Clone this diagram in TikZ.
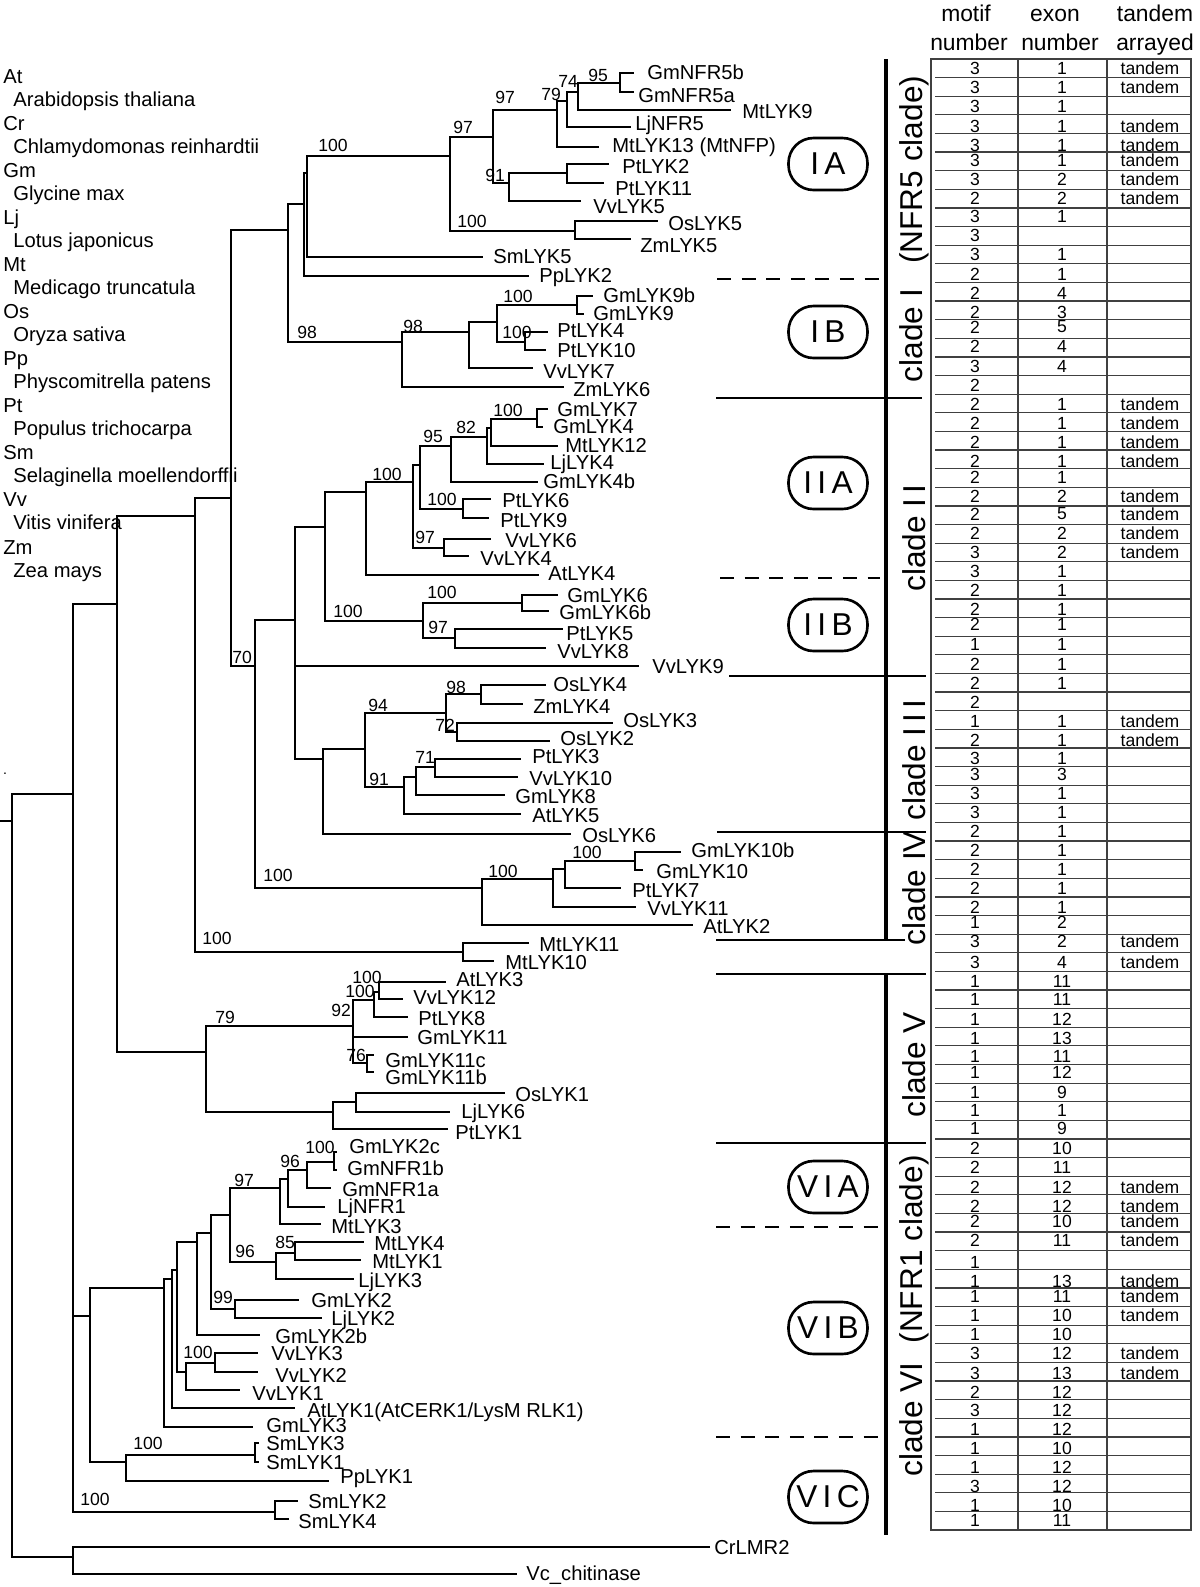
\documentclass[tikz,border=0pt]{standalone}
\usepackage{fontspec}
\setmainfont{Liberation Sans}
\usepackage{tikz}

\tikzset{
  br/.style={line width=1.1pt, line cap=rect},
  leaflab/.style={font=\fontsize{11.5}{12}\selectfont, inner sep=0pt, anchor=base west},
  bootlab/.style={font=\fontsize{10}{10}\selectfont, inner sep=0pt, anchor=base west},
  leglab/.style={font=\fontsize{11.5}{12}\selectfont, inner sep=0pt, anchor=base west},
  headlab/.style={font=\fontsize{13}{13}\selectfont, inner sep=0pt, anchor=base},
  cell/.style={font=\fontsize{10}{10}\selectfont, inner sep=0pt},
  tabline/.style={line width=0.7pt, draw=black!75},
  sepl/.style={line width=1.1pt},
  dsh/.style={line width=1.1pt, dash pattern=on 8pt off 6pt},
  cbar/.style={line width=2.2pt},
  cladelab/.style={font=\fontsize{18}{18}\selectfont, rotate=90, inner sep=0pt},
  oval/.style={draw, line width=1.5pt, rounded corners=0.5cm, minimum width=1.58cm,
               minimum height=1.04cm, inner sep=0pt, font=\fontsize{18}{18}\selectfont},
}

% branch pieces of the tree
\newcommand{\brV}[3]{\draw[br] (#1,#2) -- (#1,#3);}
\newcommand{\brH}[3]{\draw[br] (#1,#3) -- (#2,#3);}
% leaf: name, x from, x to, y, label x, label baseline, text
\newcommand{\leafL}[7]{\draw[br] (#2,#4) -- (#3,#4); \node[leaflab] (#1) at (#5,#6) {#7};}
\newcommand{\bootL}[3]{\node[bootlab] (bs-#1-#2) at (#1,#2) {#3};}

\begin{document}
\begin{tikzpicture}[x=0.02cm, y=-0.02cm]
\useasboundingbox (0,0) rectangle (1200,1587);

% ─── LEGEND ───────────────────────────────────────────────────────────────────
\foreach \ab/\nm [count=\i from 0] in {At/Arabidopsis thaliana, Cr/Chlamydomonas reinhardtii,
    Gm/Glycine max, Lj/Lotus japonicus, Mt/Medicago truncatula, Os/Oryza sativa,
    Pp/Physcomitrella patens, Pt/Populus trichocarpa, Sm/Selaginella moellendorffii,
    Vv/Vitis vinifera, Zm/Zea mays} {
  \node[leglab] (ab\i) at (3,{83+47.1*\i}) {\ab};
  \node[leglab] (sp\i) at (13,{106+47.1*\i}) {\nm};
}
\node[inner sep=0pt, font=\fontsize{8}{8}\selectfont] (dot) at (5,774) {.};

% ─── ROOT AND OUTGROUP ────────────────────────────────────────────────────────
\brH{0}{12}{821}
\brV{12}{794}{1557}
\brH{12}{73}{794}
\brH{12}{73}{1557}
\brV{73}{1547}{1574}
\leafL{CrLMR2}{73}{709}{1547}{714}{1554}{CrLMR2}
\leafL{Vcchitinase}{73}{516}{1574}{526}{1580}{Vc\_chitinase}

\brV{73}{604}{1512}
\brH{73}{117}{604}
\brH{73}{90}{1316}
\brH{73}{275}{1512}
\bootL{80}{1505}{100}
\brV{275}{1501}{1519}
\leafL{SmLYK2}{275}{297}{1501}{308}{1508}{SmLYK2}
\leafL{SmLYK4}{275}{288}{1519}{298}{1528}{SmLYK4}

% ─── CLADE VI ─────────────────────────────────────────────────────────────────
\brV{90}{1288}{1462}
\brH{90}{164}{1288}
\brH{90}{126}{1462}
\brV{126}{1455}{1481}
\brH{126}{255}{1455}
\bootL{133}{1449}{100}
\brV{255}{1443}{1462}
\leafL{SmLYK3}{255}{258}{1443}{266}{1450}{SmLYK3}
\leafL{SmLYK1}{255}{258}{1462}{266}{1469}{SmLYK1}
\leafL{PpLYK1}{126}{328}{1481}{340}{1483}{PpLYK1}
\brV{164}{1279}{1427}
\brH{164}{172}{1279}
\leafL{GmLYK3}{164}{252}{1427}{266}{1432}{GmLYK3}
\brV{172}{1270}{1408}
\brH{172}{177}{1270}
\leafL{AtLYK1}{172}{294}{1408}{307}{1417}{AtLYK1(AtCERK1/LysM RLK1)}
\brV{177}{1242}{1372}
\brH{177}{197}{1242}
\brH{177}{186}{1372}
\brV{186}{1363}{1390}
\brH{186}{215}{1363}
\bootL{183}{1358}{100}
\leafL{VvLYK1}{186}{239}{1390}{252}{1400}{VvLYK1}
\brV{215}{1353}{1372}
\leafL{VvLYK3}{215}{257}{1353}{271}{1360}{VvLYK3}
\leafL{VvLYK2}{215}{257}{1372}{275}{1382}{VvLYK2}
\brV{197}{1233}{1335}
\brH{197}{211}{1233}
\leafL{GmLYK2b}{197}{259}{1335}{275}{1343}{GmLYK2b}
\brV{211}{1215}{1309}
\brH{211}{230}{1215}
\brH{211}{235}{1309}
\brV{235}{1300}{1318}
\bootL{213}{1303}{99}
\leafL{GmLYK2}{235}{298}{1300}{311}{1307}{GmLYK2}
\leafL{LjLYK2}{235}{321}{1318}{331}{1325}{LjLYK2}
\brV{230}{1188}{1262}
\brH{230}{280}{1188}
\bootL{234}{1186}{97}
\brH{230}{276}{1262}
\bootL{235}{1257}{96}
\brV{280}{1179}{1224}
\brH{280}{288}{1179}
\leafL{MtLYK3}{280}{320}{1224}{331}{1233}{MtLYK3}
\brV{288}{1170}{1207}
\brH{288}{307}{1170}
\bootL{280}{1167}{96}
\leafL{LjNFR1}{288}{324}{1207}{337}{1213}{LjNFR1}
\brV{307}{1162}{1188}
\brH{307}{334}{1162}
\bootL{305}{1153}{100}
\leafL{GmNFR1a}{307}{330}{1188}{342}{1196}{GmNFR1a}
\brV{334}{1152}{1170}
\leafL{GmLYK2c}{334}{336}{1152}{349}{1153}{GmLYK2c}
\leafL{GmNFR1b}{334}{336}{1170}{347}{1175}{GmNFR1b}
\brV{276}{1253}{1279}
\brH{276}{295}{1253}
\bootL{275}{1248}{85}
\leafL{LjLYK3}{276}{353}{1279}{358}{1287}{LjLYK3}
\brV{295}{1242}{1260}
\leafL{MtLYK4}{295}{363}{1242}{374}{1250}{MtLYK4}
\leafL{MtLYK1}{295}{360}{1260}{372}{1268}{MtLYK1}

% ─── CLADE V ──────────────────────────────────────────────────────────────────
\brV{117}{516}{1052}
\brH{117}{195}{516}
\brH{117}{206}{1052}
\brV{206}{1026}{1112}
\bootL{215}{1023}{79}
\brH{206}{353}{1026}
\bootL{331}{1016}{92}
\brH{206}{333}{1112}
\brV{353}{1000}{1063}
\brH{353}{374}{1000}
\bootL{345}{997}{100}
\leafL{GmLYK11}{353}{407}{1037}{417}{1044}{GmLYK11}
\brH{353}{367}{1063}
\bootL{346}{1061}{76}
\brV{374}{992}{1017}
\brH{374}{379}{992}
\bootL{352}{983}{100}
\leafL{PtLYK8}{374}{407}{1017}{418}{1025}{PtLYK8}
\brV{379}{982}{999}
\leafL{AtLYK3}{379}{445}{982}{456}{986}{AtLYK3}
\leafL{VvLYK12}{379}{402}{999}{413}{1004}{VvLYK12}
\brV{367}{1055}{1072}
\leafL{GmLYK11c}{367}{373}{1055}{385}{1067}{GmLYK11c}
\leafL{GmLYK11b}{367}{373}{1072}{385}{1084}{GmLYK11b}
\brV{333}{1102}{1129}
\brH{333}{356}{1102}
\leafL{PtLYK1}{333}{447}{1129}{455}{1139}{PtLYK1}
\brV{356}{1093}{1112}
\leafL{OsLYK1}{356}{504}{1093}{515}{1101}{OsLYK1}
\leafL{LjLYK6}{356}{449}{1112}{461}{1118}{LjLYK6}

% ─── MtLYK10/11 ───────────────────────────────────────────────────────────────
\brV{195}{498}{952}
\brH{195}{231}{498}
\brH{195}{463}{952}
\bootL{202}{944}{100}
\brV{463}{943}{961}
\leafL{MtLYK11}{463}{528}{943}{539}{951}{MtLYK11}
\leafL{MtLYK10}{463}{493}{961}{505}{969}{MtLYK10}

% ─── BACKBONE OF CLADES I TO IV ───────────────────────────────────────────────
\brV{231}{230}{666}
\brH{231}{288}{230}
\brH{231}{255}{666}
\bootL{232}{663}{70}
\brV{255}{620}{888}
\brH{255}{295}{620}
\brH{255}{482}{888}
\bootL{263}{881}{100}
\brV{295}{527}{759}
\brH{295}{325}{527}
\leafL{VvLYK9}{295}{638}{666}{652}{673}{VvLYK9}
\brH{295}{323}{759}

% ─── CLADE IV ─────────────────────────────────────────────────────────────────
\brV{482}{879}{925}
\bootL{488}{877}{100}
\brH{482}{553}{879}
\leafL{AtLYK2}{482}{692}{925}{703}{933}{AtLYK2}
\brV{553}{869}{907}
\brH{553}{565}{869}
\leafL{VvLYK11}{553}{635}{907}{647}{915}{VvLYK11}
\brV{565}{861}{888}
\brH{565}{635}{861}
\bootL{572}{858}{100}
\leafL{PtLYK7}{565}{620}{888}{632}{897}{PtLYK7}
\brV{635}{852}{870}
\leafL{GmLYK10b}{635}{680}{852}{691}{857}{GmLYK10b}
\leafL{GmLYK10}{635}{642}{870}{656}{878}{GmLYK10}

% ─── CLADE III ────────────────────────────────────────────────────────────────
\brV{323}{749}{834}
\brH{323}{365}{749}
\leafL{OsLYK6}{323}{570}{834}{582}{842}{OsLYK6}
\brV{365}{713}{787}
\brH{365}{446}{713}
\bootL{368}{711}{94}
\brH{365}{404}{787}
\bootL{369}{785}{91}
\brV{446}{694}{732}
\brH{446}{481}{694}
\bootL{446}{693}{98}
\brH{446}{457}{732}
\bootL{435}{731}{72}
\brV{481}{685}{704}
\leafL{OsLYK4}{481}{545}{685}{553}{691}{OsLYK4}
\leafL{ZmLYK4}{481}{522}{704}{533}{713}{ZmLYK4}
\brV{457}{723}{741}
\leafL{OsLYK3}{457}{612}{723}{623}{727}{OsLYK3}
\leafL{OsLYK2}{457}{549}{741}{560}{745}{OsLYK2}
\brV{404}{777}{814}
\brH{404}{416}{777}
\leafL{AtLYK5}{404}{520}{814}{532}{822}{AtLYK5}
\brV{416}{767}{795}
\brH{416}{435}{767}
\bootL{415}{763}{71}
\leafL{GmLYK8}{416}{504}{795}{515}{803}{GmLYK8}
\brV{435}{759}{777}
\leafL{PtLYK3}{435}{520}{759}{532}{763}{PtLYK3}
\leafL{VvLYK10}{435}{517}{777}{529}{785}{VvLYK10}

% ─── CLADE II ─────────────────────────────────────────────────────────────────
\brV{325}{492}{621}
\brH{325}{366}{492}
\brH{325}{423}{621}
\bootL{333}{617}{100}
\brV{366}{482}{575}
\brH{366}{413}{482}
\bootL{372}{480}{100}
\leafL{AtLYK4}{366}{538}{575}{548}{580}{AtLYK4}
\brV{413}{465}{548}
\brH{413}{420}{465}
\brH{413}{444}{548}
\bootL{415}{543}{97}
\brV{420}{446}{509}
\brH{420}{451}{446}
\bootL{423}{442}{95}
\brH{420}{463}{509}
\bootL{427}{505}{100}
\brV{451}{437}{482}
\brH{451}{487}{437}
\bootL{456}{433}{82}
\leafL{GmLYK4b}{451}{537}{482}{543}{488}{GmLYK4b}
\brV{487}{428}{464}
\brH{487}{491}{428}
\leafL{LjLYK4}{487}{543}{464}{550}{469}{LjLYK4}
\brV{491}{419}{446}
\brH{491}{537}{419}
\bootL{493}{416}{100}
\leafL{MtLYK12}{491}{557}{446}{565}{452}{MtLYK12}
\brV{537}{409}{427}
\leafL{GmLYK7}{537}{547}{409}{557}{416}{GmLYK7}
\leafL{GmLYK4}{537}{542}{427}{553}{433}{GmLYK4}
\brV{463}{499}{518}
\leafL{PtLYK6}{463}{490}{499}{502}{507}{PtLYK6}
\leafL{PtLYK9}{463}{488}{518}{500}{527}{PtLYK9}
\brV{444}{539}{556}
\leafL{VvLYK6}{444}{490}{539}{505}{547}{VvLYK6}
\leafL{VvLYK4}{444}{468}{556}{480}{565}{VvLYK4}
\brV{423}{603}{638}
\brH{423}{522}{603}
\bootL{427}{598}{100}
\brH{423}{455}{638}
\bootL{428}{633}{97}
\brV{522}{595}{611}
\leafL{GmLYK6}{522}{557}{595}{567}{602}{GmLYK6}
\leafL{GmLYK6b}{522}{548}{611}{559}{619}{GmLYK6b}
\brV{455}{629}{648}
\leafL{PtLYK5}{455}{562}{629}{566}{640}{PtLYK5}
\leafL{VvLYK8}{455}{545}{648}{557}{658}{VvLYK8}

% ─── CLADE I ──────────────────────────────────────────────────────────────────
\brV{288}{204}{342}
\brH{288}{304}{204}
\brH{288}{402}{342}
\bootL{297}{338}{98}
\brV{304}{173}{276}
\brH{304}{307}{173}
\leafL{PpLYK2}{304}{528}{276}{539}{282}{PpLYK2}
\brV{307}{156}{257}
\brH{307}{450}{156}
\bootL{318}{151}{100}
\leafL{SmLYK5}{307}{482}{257}{493}{263}{SmLYK5}
\brV{450}{137}{231}
\brH{450}{493}{137}
\bootL{453}{133}{97}
\brH{450}{575}{231}
\bootL{457}{227}{100}
\brV{575}{221}{239}
\leafL{OsLYK5}{575}{657}{221}{668}{230}{OsLYK5}
\leafL{ZmLYK5}{575}{630}{239}{640}{252}{ZmLYK5}
\brV{493}{110}{183}
\brH{493}{557}{110}
\bootL{495}{103}{97}
\brH{493}{509}{183}
\bootL{485}{181}{91}
\brV{557}{101}{147}
\brH{557}{567}{101}
\bootL{541}{100}{79}
\leafL{MtLYK13}{557}{598}{147}{612}{152}{MtLYK13 (MtNFP)}
\brV{567}{92}{127}
\brH{567}{578}{92}
\bootL{558}{87}{74}
\leafL{LjNFR5}{567}{630}{127}{635}{130}{LjNFR5}
\brV{578}{83}{110}
\brH{578}{620}{83}
\bootL{588}{81}{95}
\leafL{MtLYK9}{578}{730}{110}{742}{118}{MtLYK9}
\brV{620}{73}{92}
\leafL{GmNFR5b}{620}{633}{73}{647}{79}{GmNFR5b}
\leafL{GmNFR5a}{620}{633}{92}{638}{102}{GmNFR5a}
\brV{509}{173}{201}
\brH{509}{567}{173}
\leafL{VvLYK5}{509}{580}{201}{593}{213}{VvLYK5}
\brV{567}{164}{183}
\leafL{PtLYK2}{567}{608}{164}{622}{173}{PtLYK2}
\leafL{PtLYK11}{567}{603}{183}{615}{195}{PtLYK11}
\brV{402}{332}{387}
\brH{402}{469}{332}
\bootL{403}{332}{98}
\leafL{ZmLYK6}{402}{563}{387}{573}{396}{ZmLYK6}
\brV{469}{322}{368}
\brH{469}{497}{322}
\leafL{VvLYK7}{469}{532}{368}{543}{378}{VvLYK7}
\brV{497}{305}{342}
\brH{497}{577}{305}
\bootL{503}{302}{100}
\brH{497}{525}{342}
\bootL{502}{338}{100}
\brV{577}{296}{314}
\leafL{GmLYK9b}{577}{592}{296}{603}{302}{GmLYK9b}
\leafL{GmLYK9}{577}{583}{314}{593}{320}{GmLYK9}
\brV{525}{332}{350}
\leafL{PtLYK4}{525}{547}{332}{557}{337}{PtLYK4}
\leafL{PtLYK10}{525}{545}{350}{557}{357}{PtLYK10}

% ─── CLADE SEPARATORS AND BARS ────────────────────────────────────────────────
\draw[sepl] (716,398) -- (922,398);
\draw[sepl] (729,676) -- (926,676);
\draw[sepl] (717,832) -- (926,832);
\draw[sepl] (716,940) -- (905,940);
\draw[sepl] (716,974) -- (926,974);
\draw[sepl] (716,1143) -- (926,1143);
\draw[dsh] (717,279) -- (880,279);
\draw[dsh] (720,578) -- (880,578);
\draw[dsh] (716,1227) -- (880,1227);
\draw[dsh] (716,1437) -- (880,1437);
\draw[cbar] (886,59) -- (886,940);
\draw[cbar] (886,974) -- (886,1535);

\node[cladelab] (cI)   at (914,229)  {clade I\hspace{0.8em}(NFR5 clade)};
\node[cladelab] (cII)  at (914,538)  {clade I\,I};
\node[cladelab] (cIII) at (914,760)  {clade I\,I\,I};
\node[cladelab] (cIV)  at (914,888)  {clade IV};
\node[cladelab] (cV)   at (914,1065) {clade V};
\node[cladelab] (cVI)  at (914,1316) {clade VI\hspace{0.6em}(NFR1 clade)};

\node[oval] (IA)  at (828,164)  {I\,A};
\node[oval] (IB)  at (828,332)  {I\,B};
\node[oval] (IIA) at (828,483)  {I\,I\,A};
\node[oval] (IIB) at (828,625)  {I\,I\,B};
\node[oval] (VIA) at (828,1187) {V\,I\,A};
\node[oval] (VIB) at (828,1328) {V\,I\,B};
\node[oval] (VIC) at (828,1497) {V\,I\,C};

% ─── TABLE ────────────────────────────────────────────────────────────────────
\node[headlab] (hm1) at (966,21)  {motif};
\node[headlab] (hm2) at (969,50)  {number};
\node[headlab] (he1) at (1055,21) {exon};
\node[headlab] (he2) at (1060,50) {number};
\node[headlab] (ht1) at (1155,21) {tandem};
\node[headlab] (ht2) at (1155,50) {arrayed};

\draw[tabline] (931,59) rectangle (1191,1530);
\draw[tabline] (1018,59) -- (1018,1530);
\draw[tabline] (1107,59) -- (1107,1530);
\foreach \k in {1,...,78} \draw[tabline] (935,{59+18.62*\k}) -- (1191,{59+18.62*\k});

\foreach \ry/\mo/\ex/\ta [count=\i] in {
  68/3/1/tandem, 87/3/1/tandem, 106/3/1/{}, 126/3/1/tandem, 145/3/1/tandem, 160/3/1/tandem,
  179/3/2/tandem, 198/2/2/tandem, 216/3/1/{}, 235/3/{}/{}, 254/3/1/{}, 274/2/1/{},
  293/2/4/{}, 312/2/3/{}, 327/2/5/{}, 346/2/4/{}, 366/3/4/{}, 385/2/{}/{},
  404/2/1/tandem, 423/2/1/tandem, 442/2/1/tandem, 461/2/1/tandem, 477/2/1/{},
  496/2/2/tandem, 514/2/5/tandem, 533/2/2/tandem, 552/3/2/tandem, 571/3/1/{},
  590/2/1/{}, 609/2/1/{}, 624/2/1/{}, 644/1/1/{}, 664/2/1/{}, 683/2/1/{}, 702/2/{}/{},
  721/1/1/tandem, 740/2/1/tandem, 758/3/1/{}, 774/3/3/{}, 793/3/1/{}, 812/3/1/{},
  831/2/1/{}, 850/2/1/{}, 869/2/1/{}, 888/2/1/{}, 907/2/1/{}, 922/1/2/{},
  941/3/2/tandem, 962/3/4/tandem, 981/1/11/{}, 999/1/11/{}, 1019/1/12/{}, 1038/1/13/{},
  1056/1/11/{}, 1072/1/12/{}, 1092/1/9/{}, 1110/1/1/{}, 1128/1/9/{}, 1148/2/10/{},
  1167/2/11/{}, 1187/2/12/tandem, 1206/2/12/tandem, 1221/2/10/tandem, 1240/2/11/tandem,
  1262/1/{}/{}, 1281/1/13/tandem, 1296/1/11/tandem, 1315/1/10/tandem, 1334/1/10/{},
  1353/3/12/tandem, 1373/3/13/tandem, 1392/2/12/{}, 1410/3/12/{}, 1429/1/12/{},
  1448/1/10/{}, 1467/1/12/{}, 1486/3/12/{}, 1505/1/10/{}, 1520/1/11/{}} {
  \node[cell] (mo\i) at (975,\ry)  {\mo};
  \node[cell] (ex\i) at (1062,\ry) {\ex};
  \node[cell] (ta\i) at (1150,\ry) {\ta};
}

\end{tikzpicture}
\end{document}
